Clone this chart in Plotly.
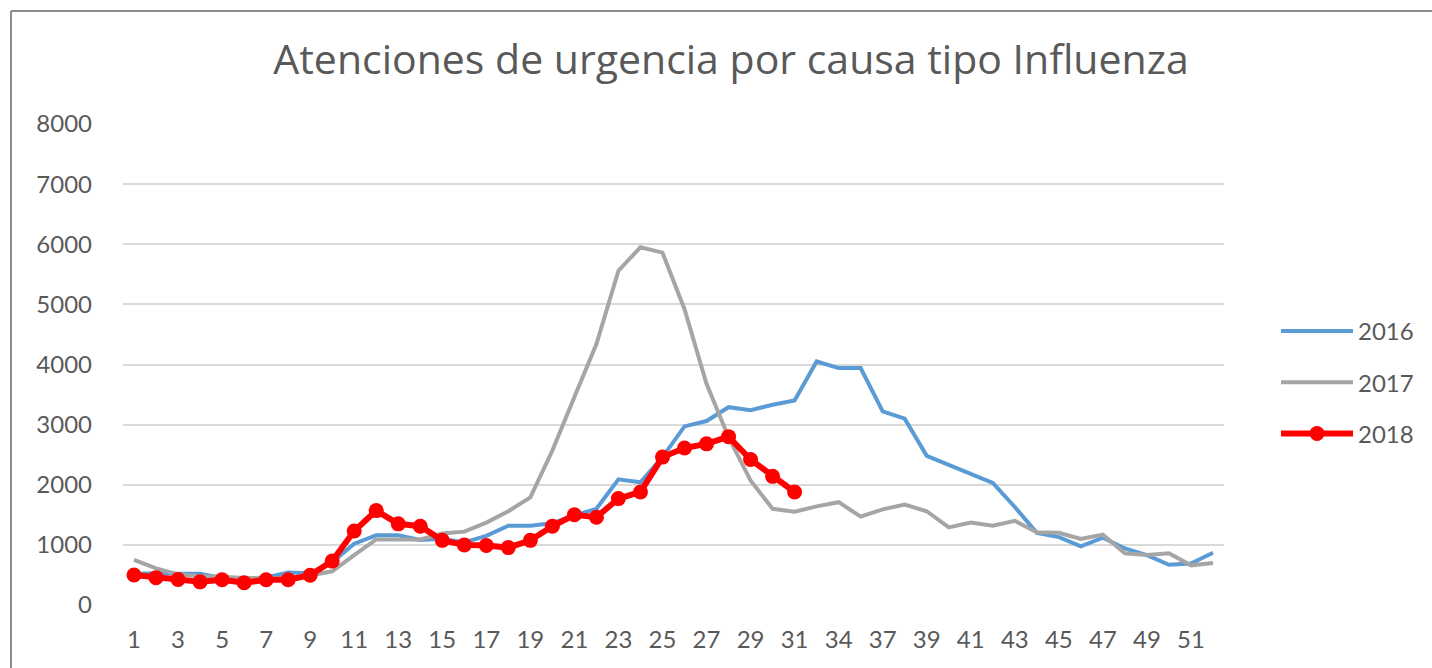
import plotly.graph_objects as go

weeks = [str(w) for w in range(1, 32)] + ["32", "34", "35"] + [str(w) for w in range(37, 53)]

v2016 = [520, 530, 520, 520, 450, 430, 460, 540, 530, 710,
         1020, 1160, 1160, 1080, 1100, 1040, 1150, 1320, 1320, 1360,
         1490, 1600, 2090, 2040, 2460, 2970, 3060, 3290, 3240, 3330,
         3400, 4050, 3940, 3940, 3220, 3100, 2480, 2330, 2180, 2030,
         1630, 1200, 1130, 975, 1120, 940, 830, 670, 690, 870]

v2017 = [750, 610, 510, 480, 470, 450, 450, 450, 490, 560,
         830, 1090, 1090, 1090, 1190, 1220, 1370, 1560, 1790, 2570,
         3460, 4340, 5560, 5950, 5860, 4920, 3680, 2790, 2070, 1600,
         1550, 1640, 1710, 1470, 1590, 1670, 1560, 1290, 1370, 1320,
         1400, 1210, 1200, 1100, 1170, 860, 830, 860, 660, 700]

v2018 = [500, 455, 425, 385, 420, 370, 420, 420, 495, 730,
         1230, 1570, 1350, 1310, 1075, 1000, 990, 955, 1075, 1310,
         1500, 1460, 1770, 1880, 2460, 2610, 2680, 2800, 2420, 2140,
         1880]

title_text = "Atenciones de urgencia por causa tipo Influenza"
FONT = "Lato"
TFONT = "Open Sans"
TXT = "#595959"

fig = go.Figure()
fig.add_trace(go.Scatter(x=weeks, y=v2016, name="2016", mode="lines",
                         line=dict(color="#5B9BD5", width=4), legendgroup="a"))
fig.add_trace(go.Scatter(x=weeks, y=v2017, name="2017", mode="lines",
                         line=dict(color="#A5A5A5", width=4), legendgroup="b"))
fig.add_trace(go.Scatter(x=weeks[:len(v2018)], y=v2018, name="2018", mode="lines+markers",
                         line=dict(color="#FF0000", width=6),
                         marker=dict(color="#FF0000", size=15), legendgroup="c"))

L, R, T, B = 123, 1224, 124, 605
W, H = 1432, 668

def px(x):
    return (x - L) / (R - L)

def py(y):
    return (B - y) / (B - T)

fig.update_layout(
    width=W, height=H,
    margin=dict(l=L, r=W - R, t=T, b=H - B, autoexpand=False),
    paper_bgcolor="white", plot_bgcolor="white",
    font=dict(family=FONT, color=TXT, size=24),
    title=dict(text=title_text, font=dict(family=TFONT, size=41, color=TXT),
               xref="container", x=731 / W, xanchor="center",
               yref="container", y=1 - 60 / H, yanchor="middle"),
    showlegend=True,
    legend=dict(x=px(1276), xanchor="left", y=py(309), yanchor="top",
                font=dict(family=FONT, size=24, color=TXT),
                tracegroupgap=17, itemwidth=72, bgcolor="rgba(0,0,0,0)"),
    shapes=[
        dict(type="line", xref="paper", yref="paper", x0=px(11), x1=px(1440),
             y0=py(11), y1=py(11), line=dict(color="#8C8C8C", width=2)),
        dict(type="line", xref="paper", yref="paper", x0=px(11), x1=px(11),
             y0=py(11), y1=py(680), line=dict(color="#8C8C8C", width=2)),
    ],
)
fig.update_xaxes(type="category", range=[-0.5, len(weeks) - 0.5],
                 tickmode="linear", tick0=0, dtick=2,
                 showgrid=False, showline=False, zeroline=False,
                 ticks="", ticklabelstandoff=18,
                 tickfont=dict(family=FONT, size=24, color=TXT))
fig.update_yaxes(range=[0, 8000], dtick=1000, showgrid=True, gridcolor="#D9D9D9",
                 gridwidth=2, zeroline=False, showline=False, ticks="",
                 ticklabelstandoff=30,
                 tickfont=dict(family=FONT, size=24, color=TXT))

fig.write_html("out.html", config={"displayModeBar": False},
               post_script="document.body.style.margin='0';document.body.style.overflow='hidden';")
